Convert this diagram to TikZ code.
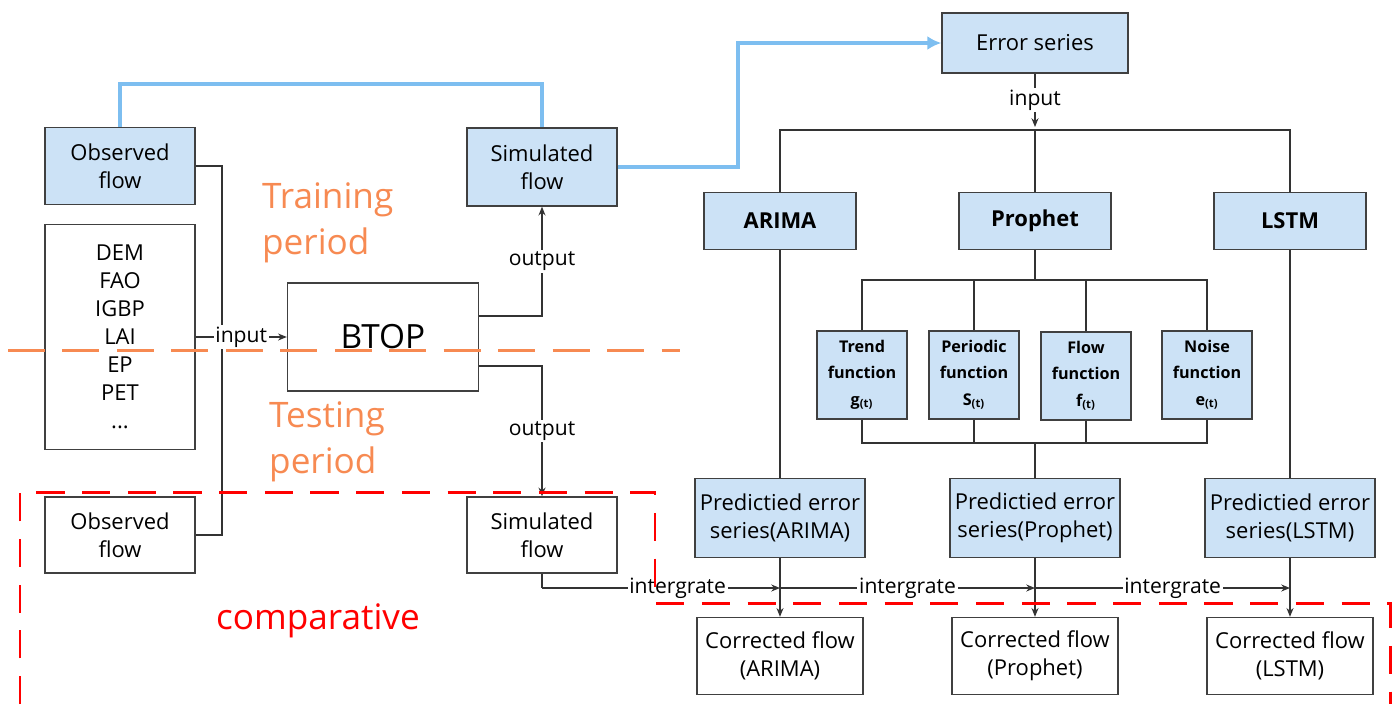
\documentclass[tikz,border=0pt]{standalone}
\usepackage{fontspec}
\setmainfont{Open Sans}
\usetikzlibrary{arrows.meta}
\definecolor{boxblue}{RGB}{204,226,246}
\definecolor{lineblue}{RGB}{125,190,240}
\definecolor{periodorange}{RGB}{247,138,82}

\begin{document}
\begin{tikzpicture}[x=0.02cm, y=-0.02cm,
    box/.style={draw=black!75, line width=0.8pt, align=center, inner sep=2pt,
      font=\fontsize{12.5}{16}\selectfont},
    bluebox/.style={box, fill=boxblue},
    modelbox/.style={bluebox, font=\fontsize{12.5}{16}\selectfont\bfseries,
      minimum width=3.04cm, minimum height=1.14cm},
    funcbox/.style={bluebox, font=\fontsize{9.2}{15}\selectfont\bfseries,
      minimum width=1.8cm, minimum height=1.76cm},
    conn/.style={draw=black!80, line width=0.6pt},
    arr/.style={conn, -{Stealth[length=5pt,width=4pt]}},
    lbl/.style={fill=white, inner sep=1pt, font=\fontsize{12}{14}\selectfont},
    blueline/.style={draw=lineblue, line width=1.8pt},
    period/.style={text=periodorange, align=left, anchor=west,
      font=\fontsize{20}{26}\selectfont}]
    \useasboundingbox (0,0) rectangle (1397,704);

    % left column
    \node[bluebox, minimum width=3cm, minimum height=1.54cm] (O1) at (120,166) {Observed\\flow};
    \node[box, minimum width=3cm, minimum height=4.5cm, font=\fontsize{12.5}{15.9}\selectfont] (D) at (120,337)
      {DEM\\FAO\\IGBP\\LAI\\EP\\PET\\...};
    \node[box, minimum width=3cm, minimum height=1.52cm] (O2) at (120,535) {Observed\\flow};

    % model
    \node[box, minimum width=3.82cm, minimum height=2.16cm, font=\fontsize{19}{22}\selectfont] (B) at (383,337) {BTOP};
    \node[bluebox, minimum width=3cm, minimum height=1.56cm] (S1) at (542,167) {Simulated\\flow};
    \node[box, minimum width=3cm, minimum height=1.52cm] (S2) at (542,535) {Simulated\\flow};

    % error models
    \node[bluebox, minimum width=3.72cm, minimum height=1.2cm] (E) at (1035,43) {Error series};
    \node[modelbox] (A) at (780,221) {ARIMA};
    \node[modelbox] (P) at (1035,221) {Prophet};
    \node[modelbox] (L) at (1290,221) {LSTM};

    \node[funcbox] (F1) at (862,375) {Trend\\function\\g\textsubscript{(t)}};
    \node[funcbox] (F2) at (974,375) {Periodic\\function\\S\textsubscript{(t)}};
    \node[funcbox] (F3) at (1086,376) {Flow\\function\\f\textsubscript{(t)}};
    \node[funcbox] (F4) at (1207,375) {Noise\\function\\e\textsubscript{(t)}};

    \node[bluebox, minimum width=3.4cm, minimum height=1.58cm] (PA) at (780,518) {Predictied error\\series(ARIMA)};
    \node[bluebox, minimum width=3.4cm, minimum height=1.58cm] (PP) at (1035,518) {Predictied error\\series(Prophet)};
    \node[bluebox, minimum width=3.4cm, minimum height=1.58cm] (PL) at (1290,518) {Predictied error\\series(LSTM)};

    \node[box, minimum width=3.32cm, minimum height=1.54cm] (CA) at (780,656) {Corrected flow\\(ARIMA)};
    \node[box, minimum width=3.32cm, minimum height=1.54cm] (CP) at (1035,656) {Corrected flow\\(Prophet)};
    \node[box, minimum width=3.32cm, minimum height=1.54cm] (CL) at (1290,656) {Corrected flow\\(LSTM)};

    % training / testing connectors
    \draw[conn] (O1.east) -- (222,166) |- (O2.east);
    \draw[arr] (D.east) -- node[lbl] {input} (B.west);
    \draw[arr] ([yshift=0.42cm]B.east) -| node[lbl, pos=0.75] {output} (S1.south);
    \draw[arr] ([yshift=-0.58cm]B.east) -| node[lbl, pos=0.75] {output} (S2.north);
    \draw[blueline] (O1.north) -- (120,84) -| (S1.north);
    \draw[blueline, -{Latex[length=8pt,width=8pt]}] (S1.east) -- (738,167) |- (E.west);

    % error series to models
    \coordinate (top) at (1035,130);
    \draw[arr] (E.south) -- node[lbl] {input} ([yshift=0.06cm]top);
    \draw[conn] (A.north) -- (780,130) -- (1290,130) -- (L.north);
    \draw[conn] (top) -- (P.north);
    \draw[conn] (P.south) -- (1035,280);
    \draw[conn] (F1.north) -- (862,280) -- (1207,280) -- (F4.north);
    \draw[conn] (F2.north) -- (974,280);
    \draw[conn] (F3.north) -- (1086,280);
    \draw[conn] (F1.south) -- (862,443) -- (1207,443) -- (F4.south);
    \draw[conn] (F2.south) -- (974,443);
    \draw[conn] (F3.south) -- (1086,443);
    \draw[conn] (1035,443) -- (PP.north);
    \draw[conn] (A.south) -- (PA.north);
    \draw[conn] (L.south) -- (PL.north);
    \draw[arr] (PA.south) -- (CA.north);
    \draw[arr] (PP.south) -- (CP.north);
    \draw[arr] (PL.south) -- (CL.north);

    % integrate
    \coordinate (j0) at (542,588);
    \coordinate (j1) at (780,588);
    \coordinate (j2) at (1035,588);
    \coordinate (j3) at (1290,588);
    \draw[conn] (S2.south) -- (j0);
    \draw[arr] (j0) -- node[lbl, pos=0.57] {intergrate} (j1);
    \draw[arr] (j1) -- node[lbl] {intergrate} (j2);
    \draw[arr] (j2) -- node[lbl, pos=0.54] {intergrate} (j3);

    % periods
    \draw[periodorange, line width=1.7pt, dash pattern=on 21pt off 10pt] (8,350) -- (680,350);
    \node[period] (TR) at (256,223) {Training\\period};
    \node[period] (TE) at (263,442) {Testing\\period};

    % comparative frame
    \draw[red, line width=1.7pt, dash pattern=on 16pt off 10pt]
      (20,704) -- (20,492) -- (655,492) -- (655,603) -- (1390,603) -- (1390,704);
    \node[text=red, font=\fontsize{20}{24}\selectfont] (C) at (318,621) {comparative};
\end{tikzpicture}
\end{document}
